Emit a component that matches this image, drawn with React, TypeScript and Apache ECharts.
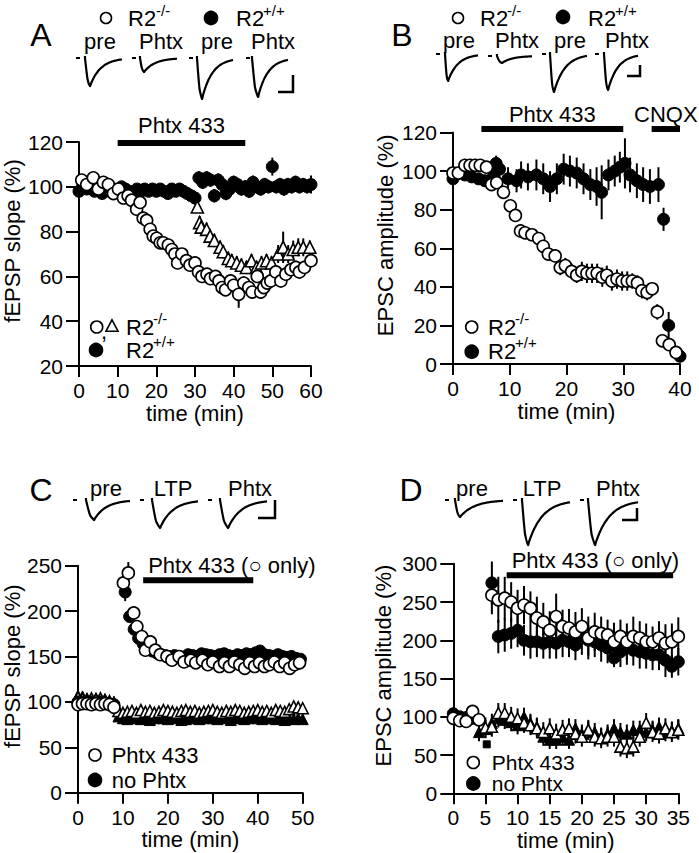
import React, { useEffect, useRef } from "react";
import * as echarts from "echarts";

const FONT = "'Liberation Sans', Arial, Helvetica, sans-serif";

type P = [number, number, number];

// ---------- Panel A : fEPSP slope (%), time (min) ----------
const aAxisX = [0, 60, 10];
const aAxisY = [20, 120, 20];
const aKoCircle: P[] = [
  [0.7, 103, 2], [2, 101, 2], [3.7, 104, 2], [5, 99, 2], [6.3, 102, 2], [7.6, 101, 2], [8.9, 97, 2],
  [10.2, 99, 2], [11.5, 95, 2], [12.7, 96, 2], [13.6, 94, 2], [14.9, 90, 2], [15.8, 93, 2], [16.6, 86, 2],
  [17.5, 85, 2], [18.4, 81, 2], [19.2, 78, 2], [20.1, 77, 2], [21, 75, 2], [21.8, 75, 2], [23.1, 74, 2],
  [24, 72, 2], [24.8, 70, 2], [25.5, 66, 2], [26.6, 70, 2], [27.8, 67, 2], [28.7, 65, 2], [30, 66, 2],
  [30.9, 62, 2], [31.8, 60, 2], [33.1, 61, 2], [34, 59, 2], [35.3, 60, 2], [36.2, 58, 2], [37, 55, 2],
  [37.9, 54, 2], [39.2, 58, 2], [40, 56, 3], [41.3, 52, 6], [42.6, 57, 3], [43.9, 55, 3], [44.8, 53, 3],
  [46.1, 60, 3], [47, 53, 3], [47.8, 55, 3], [48.7, 57, 3], [49.6, 58, 3], [50.9, 62, 3], [52.2, 58, 3],
  [53.5, 61, 3], [54.8, 63, 3], [56.1, 64, 3], [57, 62, 3], [58.3, 64, 3], [60, 67, 3],
];
const aKoTriangle: P[] = [
  [30.6, 91, 2], [31.2, 84, 3], [31.6, 82, 3], [33, 81, 3], [33.9, 78, 3], [35, 76, 3], [36.5, 73, 3],
  [37.3, 71, 3], [38.6, 68, 3], [39.5, 67, 3], [40.8, 66, 3], [42, 65, 3], [43.3, 64, 3], [44.6, 67, 3],
  [45.9, 64, 3], [47.2, 66, 3], [48.5, 67, 3], [49.8, 66, 3], [51.5, 70, 4], [52.8, 73, 7], [54.1, 70, 4],
  [55.4, 72, 4], [56.7, 73, 4], [58, 73, 4], [59.7, 73, 3],
];
const aWtValues = [
  98, 101, 99, 100, 98, 99, 97, 99, 98, 99, 98, 100, 99, 98, 97, 99, 98, 99, 98, 99, 98, 99, 98, 97, 99, 98,
  99, 98, 97, 96, 95, 104, 102, 104, 103, 96, 103, 101, 97, 99, 102, 101, 99, 100, 98, 102, 100, 99, 101,
  100, 109, 100, 101, 99, 101, 100, 102, 100, 101, 100, 101,
];
const aWtErrors = [
  2, 2, 2, 2, 2, 2, 2, 2, 2, 2, 2, 2, 2, 2, 2, 2, 2, 2, 2, 2, 2, 2, 2, 2, 2, 2, 2, 2, 2, 2, 3, 3, 3, 3, 3,
  3, 3, 3, 3, 3, 3, 3, 3, 3, 3, 3, 3, 3, 3, 3, 4, 3, 3, 3, 3, 3, 3, 3, 3, 3, 4,
];
const aDrug = [[10, 43, 119.6]];
const aDrugLabels = ["Phtx 433"];

// ---------- Panel B : EPSC amplitude (%) ----------
const bAxisX = [0, 40, 10];
const bAxisY = [0, 120, 20];
const bKo: P[] = [
  [0, 99, 2], [0.95, 99, 2], [2.1, 103, 2], [3, 103, 2], [3.9, 103, 2], [4.8, 103, 2], [5.9, 102, 2],
  [6.8, 93, 2], [7.7, 94, 2], [8.9, 89, 2], [10.1, 82, 2], [11, 77, 2], [11.9, 69, 2], [12.7, 68, 2],
  [13.9, 67, 3], [15.1, 65, 3], [15.9, 61, 3], [16.8, 57, 3], [18, 56, 3], [18.9, 50, 4], [19.8, 51, 4],
  [20.9, 48, 4], [21.8, 46, 4], [22.7, 48, 5], [23.6, 47, 5], [24.5, 47, 5], [25.4, 47, 5], [26.3, 45, 5],
  [27.1, 46, 5], [28, 43, 5], [28.9, 44, 5], [29.8, 43, 5], [30.7, 43, 5], [31.6, 43, 4], [32.5, 42, 4],
  [33.3, 38, 4], [34.2, 37, 4], [35.1, 39, 3], [36, 27, 4], [36.9, 12, 3], [38.1, 10, 2], [39.3, 6, 2],
  [40.2, 3, 2],
];
const bWt: P[] = [
  [0, 96, 3], [2.1, 98, 3], [3.3, 97, 3], [4.5, 96, 3], [5.6, 95, 3], [7.1, 97, 4], [7.6, 104, 4],
  [8.2, 101, 5], [9.7, 96, 6], [11.2, 95, 6], [12, 98, 7], [13.2, 97, 7], [14.7, 98, 8], [15.9, 96, 8],
  [17.1, 92, 8], [18.3, 96, 8], [19.5, 101, 8], [20.6, 100, 8], [21.8, 99, 8], [23, 96, 8], [24.2, 93, 8],
  [25.3, 92, 10], [26.2, 89, 14], [27.4, 98, 8], [28.5, 100, 8], [29.4, 102, 8], [30.3, 104, 13],
  [31.2, 98, 9], [32.4, 95, 9], [33.5, 93, 9], [34.7, 92, 9], [36.2, 93, 9], [37.1, 75, 6], [38, 20, 7],
  [40, 4, 2],
];
const bDrug = [[5, 30, 121.8], [35, 40, 121.8]];
const bDrugLabels = ["Phtx 433", "CNQX"];

// ---------- Panel C : fEPSP slope (%) LTP ----------
const cAxisX = [0, 50, 10];
const cAxisY = [0, 250, 50];
const cPhtx: P[] = [
  [0, 97, 2], [1, 98, 2], [2, 98, 2], [3, 97, 2], [4, 98, 2], [5, 97, 2], [6, 98, 2], [7, 97, 2], [8, 94, 2],
  [10.1, 231, 8], [11.2, 242, 12], [12.4, 198, 6], [13.1, 183, 4], [14.2, 172, 4], [15, 157, 3],
  [16.1, 166, 3], [17.2, 157, 3], [18.3, 152, 3], [19.8, 150, 3], [20.9, 146, 3], [22.5, 150, 3],
  [23.6, 144, 3], [25.1, 146, 3], [26.2, 143, 3], [27.7, 146, 3], [28.9, 141, 3], [30, 144, 3],
  [31.5, 139, 3], [32.6, 143, 3], [33.7, 139, 3], [34.8, 144, 3], [36, 141, 3], [37.1, 137, 3],
  [38.2, 143, 3], [39.3, 139, 3], [40.4, 143, 3], [41.5, 139, 3], [42.6, 141, 3], [43.7, 144, 3],
  [44.9, 139, 3], [46, 143, 3], [47.1, 137, 3], [48.2, 141, 3], [49.3, 143, 3], [50.1, 143, 3],
];
const cNoPhtx: P[] = [
  [0, 100, 2], [1, 100, 2], [2, 99, 2], [3, 100, 2], [4, 99, 2], [5, 100, 2], [6, 99, 2], [7, 98, 2], [8, 97, 2],
  [10.5, 221, 10], [11.5, 194, 6], [12.5, 180, 4], [13.5, 170, 3], [14.5, 164, 3], [15.5, 160, 3],
  [16.5, 156, 3], [17.5, 154, 3], [18.5, 152, 3], [19.5, 151, 3], [20.5, 150, 3], [21.5, 151, 3],
  [22.5, 150, 3], [23.5, 149, 3], [24.5, 152, 3], [25.5, 151, 3], [26.5, 150, 3], [27.5, 153, 3],
  [28.5, 152, 3], [29.5, 151, 3], [30.5, 150, 3], [31.5, 152, 3], [32.5, 153, 3], [33.5, 151, 3],
  [34.5, 150, 3], [35.5, 152, 3], [36.5, 151, 3], [37.5, 153, 3], [38.5, 152, 3], [39.5, 154, 3],
  [40.5, 156, 3], [41.5, 152, 3], [42.5, 151, 3], [43.5, 150, 3], [44.5, 152, 3], [45.5, 150, 3],
  [46.5, 149, 3], [47.5, 150, 3], [48.5, 148, 3], [49.5, 147, 3],
];
const cCtrlPhtxValues = [
  105, 104, 102, 104, 103, 104, 102, 101, 99, 90, 88, 89, 90, 88, 91, 89, 90, 88, 89, 91, 90, 89, 88, 90, 91,
  89, 90, 88, 89, 90, 91, 89, 88, 90, 89, 91, 90, 88, 89, 90, 91, 89, 90, 88, 91, 90, 89, 92, 95, 94, 93,
];
const cCtrlNoPhtxValues = [
  107, 106, 104, 103, 104, 102, 103, 100, 100, 84, 82, 81, 82, 83, 81, 82, 80, 82, 83, 82, 81, 83, 82, 80,
  81, 82, 83, 81, 82, 84, 82, 81, 83, 82, 80, 82, 83, 81, 82, 83, 82, 81, 82, 83, 81, 82, 80, 82, 81, 82, 81,
];
const cDrug = [[14.5, 39, 234]];
const cDrugLabels = ["Phtx 433 (\u25CB only)"];

// ---------- Panel D : EPSC amplitude (%) LTP ----------
const dAxisX = [0, 35, 5];
const dAxisY = [0, 300, 50];
const dPhtxBase: P[] = [[0, 98, 4], [1, 95, 4], [2, 94, 4], [3, 107, 5], [4, 96, 5]];
const dPhtxLtp = [
  259, 253, 255, 250, 242, 246, 242, 229, 224, 213, 231, 218, 216, 211, 218, 203, 211, 209, 207, 198, 205,
  198, 205, 203, 198, 198, 203, 196, 198, 205,
];
const dPhtxLtpErr = [
  25, 30, 28, 26, 24, 25, 22, 28, 25, 25, 30, 22, 25, 26, 24, 28, 25, 22, 20, 25, 22, 24, 26, 22, 24, 20, 22,
  25, 24, 25,
];
const dNoPhtxBase: P[] = [[0, 104, 4], [1, 100, 4], [2, 99, 4], [3, 98, 4]];
const dNoPhtxLtp = [
  275, 205, 207, 209, 213, 200, 198, 198, 196, 198, 196, 200, 198, 194, 203, 200, 198, 194, 190, 177, 185,
  190, 187, 185, 183, 181, 181, 174, 166, 172,
];
const dNoPhtxLtpErr = [
  28, 22, 22, 20, 22, 20, 22, 20, 20, 22, 20, 22, 20, 20, 22, 20, 20, 22, 20, 12, 20, 22, 20, 22, 20, 20, 20,
  22, 15, 18,
];
const dCtrlPhtx = [
  86, 87, 105, 105, 100, 98, 92, 89, 85, 80, 85, 78, 83, 85, 78, 74, 83, 74, 72, 74, 74, 61, 59, 61, 74, 92,
  80, 78, 85, 80, 83,
];
const dCtrlNoPhtx = [
  80, 84, 92, 98, 96, 93, 89, 100, 92, 87, 74, 70, 70, 74, 70, 85, 78, 82, 80, 74, 78, 85, 80, 78, 83, 83, 80,
  83, 87, 80, 82, 85,
];
const dTetanusMark = [[5.2, 64]];
const dDrug = [[8.3, 34.2, 285]];
const dDrugLabels = ["Phtx 433 (\u25CB only)"];

// ---------- helpers ----------
const grids = [
  { left: 79, top: 142, width: 232, height: 224 },
  { left: 453, top: 132.5, width: 227, height: 231.5 },
  { left: 77.7, top: 565.7, width: 225, height: 227 },
  { left: 453.3, top: 563.8, width: 225, height: 229.5 },
];

function xAxisCfg(gi: number, r: number[]) {
  return {
    type: "value", gridIndex: gi, min: r[0], max: r[1], interval: r[2],
    name: "time (min)", nameLocation: "middle", nameGap: 36,
    nameTextStyle: { fontSize: 22, fontFamily: FONT, fontWeight: "normal", color: "#000" },
    axisLine: { show: true, onZero: false, lineStyle: { color: "#000", width: 2 } },
    axisTick: { show: true, length: 11, lineStyle: { color: "#000", width: 2 } },
    axisLabel: { fontSize: 21, fontFamily: FONT, fontWeight: "normal", color: "#000", margin: 14 },
    splitLine: { show: false },
  };
}
function yAxisCfg(gi: number, r: number[], name: string, gap: number) {
  return {
    type: "value", gridIndex: gi, min: r[0], max: r[1], interval: r[2],
    name, nameLocation: "middle", nameGap: gap,
    nameTextStyle: { fontSize: 22, fontFamily: FONT, fontWeight: "normal", color: "#000", padding: [0, 0, 0, 26] },
    axisLine: { show: true, onZero: false, lineStyle: { color: "#000", width: 2 } },
    axisTick: { show: true, length: 13, lineStyle: { color: "#000", width: 2 } },
    axisLabel: { fontSize: 21, fontFamily: FONT, fontWeight: "normal", color: "#000", margin: 16 },
    splitLine: { show: false },
  };
}
function errBars(gi: number, data: P[]) {
  return {
    type: "custom", xAxisIndex: gi, yAxisIndex: gi, silent: true, z: 1, clip: false,
    data, encode: { x: 0, y: 1 },
    renderItem: (_p: any, api: any) => {
      const x = api.value(0), y = api.value(1), e = api.value(2);
      const a = api.coord([x, y + e]);
      const b = api.coord([x, y - e]);
      return { type: "line", shape: { x1: a[0], y1: a[1], x2: b[0], y2: b[1] }, style: { stroke: "#000", lineWidth: 2 } };
    },
  };
}
function marks(gi: number, data: P[] | number[][], symbol: string, filled: boolean, size = 12, z = 3) {
  return {
    type: "scatter", xAxisIndex: gi, yAxisIndex: gi, silent: true, z,
    data: data.map((d) => [d[0], d[1]]), symbol, symbolSize: size,
    itemStyle: filled
      ? { color: "#000", borderColor: "#000", borderWidth: 1, opacity: 1 }
      : { color: "#fff", borderColor: "#000", borderWidth: 1.6, opacity: 1 },
  };
}
function drugBars(gi: number, data: number[][], labels: string[], align: string, dy: number) {
  return {
    type: "custom", xAxisIndex: gi, yAxisIndex: gi, silent: true, z: 4, clip: false,
    data, encode: { x: [0, 1], y: 2 },
    renderItem: (p: any, api: any) => {
      const s = api.coord([api.value(0), api.value(2)]);
      const e = api.coord([api.value(1), api.value(2)]);
      return {
        type: "group",
        children: [
          { type: "rect", shape: { x: s[0], y: s[1] - 3, width: e[0] - s[0], height: 6 }, style: { fill: "#000" } },
          {
            type: "text", x: align === "center" ? (s[0] + e[0]) / 2 : s[0] + 5, y: s[1] - dy,
            style: { text: labels[p.dataIndex], fill: "#000", fontSize: 22, fontFamily: FONT, align, verticalAlign: "middle" },
          },
        ],
      };
    },
  };
}
const withTime = (vals: number[], t0: number, errs: number[] | number): P[] =>
  vals.map((v, i) => [t0 + i, v, Array.isArray(errs) ? errs[i] : errs]);

// ---------- decoration: example traces ----------
function trace(x0: number, base: number, amp: number, xEnd: number, rise = 5) {
  const pts: number[][] = [[x0, base - 2], [x0, base]];
  const xp = x0 + rise;
  pts.push([x0 + rise * 0.5, base + amp * 0.75]);
  pts.push([xp, base + amp]);
  const tau = (xEnd - xp) / 3.0;
  for (let x = xp + 1; x <= xEnd; x += 1) pts.push([x, base + amp * Math.exp(-(x - xp) / tau)]);
  return pts;
}
const lineSty = { stroke: "#000", lineWidth: 2.2, fill: null as any };
function traceEl(dashX: number, x0: number, base: number, amp: number, xEnd: number, rise = 5) {
  return [
    { type: "line", shape: { x1: dashX, y1: base, x2: dashX + 4, y2: base }, style: { stroke: "#000", lineWidth: 2 } },
    { type: "polyline", shape: { points: trace(x0, base, amp, xEnd, rise), smooth: 0.2 }, style: lineSty },
  ];
}
function scaleBar(x: number, y1: number, y2: number, x1: number) {
  return [
    { type: "polyline", shape: { points: [[x, y1], [x, y2], [x1, y2]] }, style: { stroke: "#000", lineWidth: 2.5, fill: null } },
  ];
}
function txt(text: string, x: number, y: number, size = 22, align = "center", lineHeight?: number) {
  return {
    type: "text", x, y,
    style: { text, fill: "#000", fontSize: size, fontFamily: FONT, align, verticalAlign: "middle", lineHeight: lineHeight ?? size + 2 },
  };
}
function circ(cx: number, cy: number, filled: boolean, r = 6) {
  return { type: "circle", shape: { cx, cy, r }, style: { fill: filled ? "#000" : "#fff", stroke: "#000", lineWidth: 1.6 } };
}
function tri(cx: number, cy: number, s = 12) {
  const h = s * 0.87;
  return {
    type: "polygon",
    shape: { points: [[cx, cy - h / 2 - 1], [cx + s / 2, cy + h / 2], [cx - s / 2, cy + h / 2]] },
    style: { fill: "#fff", stroke: "#000", lineWidth: 1.6 },
  };
}

export default function App() {
  const ref = useRef<HTMLDivElement>(null);
  useEffect(() => {
    if (!ref.current) return;
    const chart = echarts.init(ref.current, undefined, { renderer: "svg" });

    const graphic: any[] = [
      // panel letters
      txt("A", 41, 35, 32), txt("B", 402, 35, 32), txt("C", 41, 490, 32), txt("D", 411, 490, 32),
      // header A
      circ(106, 18, false, 5.5), txt("R2", 128, 18, 22, "left"), txt("-/-", 156, 10, 15, "left"),
      circ(211, 18, true, 6.5), txt("R2", 236, 18, 22, "left"), txt("+/+", 263, 10, 15, "left"),
      txt("pre", 100, 41), txt("Phtx", 161, 41), txt("pre", 217, 41), txt("Phtx", 273, 41),
      ...traceEl(76, 85, 58, 28, 122, 5), ...traceEl(132, 140, 58, 14, 177, 4),
      ...traceEl(189, 197, 58, 41, 233, 5), ...traceEl(246, 252, 58, 39, 288, 6),
      ...scaleBar(293, 75, 92, 278),
      // header B
      circ(458, 18, false, 5.5), txt("R2", 480, 18, 22, "left"), txt("-/-", 507, 10, 15, "left"),
      circ(563, 17, true, 6.5), txt("R2", 588, 18, 22, "left"), txt("+/+", 615, 10, 15, "left"),
      txt("pre", 459, 40), txt("Phtx", 517, 40), txt("pre", 570, 40), txt("Phtx", 627, 40),
      ...traceEl(436, 445, 54, 27, 478, 3), ...traceEl(488, 497, 56, 7, 532, 5),
      ...traceEl(542, 550, 54, 38, 587, 4), ...traceEl(595, 604, 54, 36, 638, 4),
      ...scaleBar(640, 65, 76, 627),
      // header C
      txt("pre", 106, 488), txt("LTP", 173, 488), txt("Phtx", 250, 488),
      ...traceEl(73, 86, 500, 20, 130, 8), ...traceEl(140, 152, 500, 28, 198, 8),
      ...traceEl(208, 220, 500, 28, 267, 8), ...scaleBar(275, 500, 518, 258),
      // header D
      txt("pre", 472, 488), txt("LTP", 542, 488), txt("Phtx", 618, 488),
      ...traceEl(445, 455, 500, 17, 503, 5), ...traceEl(513, 522, 500, 45, 570, 6),
      ...traceEl(580, 588, 500, 45, 638, 7), ...scaleBar(637, 508, 520, 622),
      // legend A
      circ(96.7, 327, false), txt(",", 104, 331, 22), tri(112, 326, 12),
      txt("R2", 126, 327, 22, "left"), txt("-/-", 153, 318, 15, "left"),
      circ(96, 350, true, 6.5), txt("R2", 126, 350, 22, "left"), txt("+/+", 153, 341, 15, "left"),
      // legend B
      circ(471.7, 327, false), txt("R2", 488, 327, 22, "left"), txt("-/-", 515, 318, 15, "left"),
      circ(471.7, 351.7, true, 6.5), txt("R2", 488, 351, 22, "left"), txt("+/+", 515, 342, 15, "left"),
      // legend C
      circ(95, 755, false), txt("Phtx 433", 111.7, 755, 22, "left"),
      circ(95, 780, true, 6.5), txt("no Phtx", 111.7, 780, 22, "left"),
      // legend D
      circ(473.3, 762.5, false), txt("Phtx 433", 491.7, 762.5, 21, "left", 20),
      circ(473.3, 783.5, true, 6.5), txt("no Phtx", 491.7, 783.5, 21, "left", 20),
    ];

    const aWt = withTime(aWtValues, 0, aWtErrors);
    const cCtrlP = withTime(cCtrlPhtxValues, 0, 3);
    const cCtrlN = withTime(cCtrlNoPhtxValues, 0, 3);
    const dPhtx = [...dPhtxBase, ...withTime(dPhtxLtp, 6, dPhtxLtpErr)];
    const dNo = [...dNoPhtxBase, ...withTime(dNoPhtxLtp, 6, dNoPhtxLtpErr)];
    const dCtrlP = withTime(dCtrlPhtx, 5, 13);
    const dCtrlN = withTime(dCtrlNoPhtx, 4, 12);

    const option: any = {
      animation: false,
      backgroundColor: "#fff",
      grid: grids.map((g) => ({ ...g, containLabel: false })),
      xAxis: [xAxisCfg(0, aAxisX), xAxisCfg(1, bAxisX), xAxisCfg(2, cAxisX), xAxisCfg(3, dAxisX)],
      yAxis: [
        yAxisCfg(0, aAxisY, "fEPSP slope (%)", 56),
        yAxisCfg(1, bAxisY, "EPSC amplitude (%)", 57),
        yAxisCfg(2, cAxisY, "fEPSP slope (%)", 55),
        yAxisCfg(3, dAxisY, "EPSC amplitude (%)", 59),
      ],
      series: [
        // A
        errBars(0, aWt), errBars(0, aKoCircle), errBars(0, aKoTriangle),
        marks(0, aWt, "circle", true), marks(0, aKoTriangle, "triangle", false, 12), marks(0, aKoCircle, "circle", false),
        drugBars(0, aDrug, aDrugLabels, "center", 17),
        // B
        errBars(1, bWt), errBars(1, bKo),
        marks(1, bWt, "circle", true), marks(1, bKo, "circle", false),
        drugBars(1, bDrug, bDrugLabels, "center", 15),
        // C
        errBars(2, cCtrlN), errBars(2, cCtrlP), errBars(2, cNoPhtx), errBars(2, cPhtx),
        marks(2, cCtrlN, "triangle", true, 11), marks(2, cCtrlP, "triangle", false, 11),
        marks(2, cNoPhtx, "circle", true), marks(2, cPhtx, "circle", false),
        drugBars(2, cDrug, cDrugLabels, "left", 15),
        // D
        errBars(3, dCtrlN), errBars(3, dCtrlP), errBars(3, dNo), errBars(3, dPhtx),
        marks(3, dCtrlN, "triangle", true, 11), marks(3, dCtrlP, "triangle", false, 11),
        marks(3, dNo, "circle", true), marks(3, dPhtx, "circle", false),
        marks(3, dTetanusMark, "rect", true, 7),
        drugBars(3, dDrug, dDrugLabels, "left", 15),
      ],
      graphic,
    };
    chart.setOption(option);
    return () => chart.dispose();
  }, []);
  return <div ref={ref} style={{ position: "absolute", left: 0, top: 0, width: 699, height: 853 }} />;
}
